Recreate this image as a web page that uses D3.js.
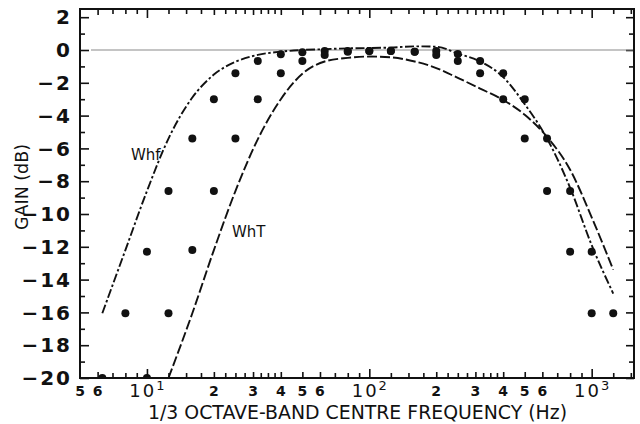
<!DOCTYPE html>
<html>
<head>
  <meta charset="utf-8" />
  <script src="https://d3js.org/d3.v7.min.js"></script>
  <style>
    body {
      margin: 0;
      background: #fff;
    }
    svg {
      display: block;
      font-family: "DejaVu Sans", sans-serif;
    }
    .tick line {
      stroke: #111;
      stroke-width: 1.6px;
    }
    .curve {
      fill: none;
      stroke: #111;
      stroke-width: 1.9px;
    }
  </style>
</head>
<body>
  <script>
    // 1/3 octave band centre frequencies (Hz)
    var bands = [6.3, 8, 10, 12.5, 16, 20, 25, 31.5, 40, 50, 63, 80, 100, 125, 160, 200, 250, 315, 400, 500, 630, 800, 1000, 1250];
    // measured points, outer and inner sets (dB)
    var gainOuter = [-20, -16.05, -12.3, -8.6, -5.4, -3.0, -1.42, -0.67, -0.26, -0.14, -0.06, -0.06, -0.06, -0.06, -0.1, -0.06, -0.25, -0.67, -1.42, -3.0, -5.4, -8.6, -12.3, -16.05];
    var gainInner = [null, null, -20, -16.05, -12.2, -8.6, -5.4, -3.0, -1.42, -0.67, -0.3, -0.1, -0.06, -0.06, -0.1, -0.3, -0.67, -1.42, -3.0, -5.4, -8.6, -12.3, -16.05, null];

    // Whf weighting curve (dash-dot)
    var whfFreq = [6.3, 8, 10, 12.5, 16, 20, 25, 31.5, 40, 50, 63, 80, 100, 125, 160, 200, 250, 315, 400, 500, 630, 800, 1000, 1250];
    var whfGain = [-16.05, -12.2, -8.6, -5.4, -2.9, -1.5, -0.72, -0.3, -0.1, 0, 0.05, 0.1, 0.12, 0.15, 0.22, 0.2, -0.22, -0.7, -1.65, -3.3, -5.4, -8.4, -11.9, -14.85];

    // WhT weighting curve (dashed)
    var whtFreq = [12.5, 16, 20, 25, 31.5, 40, 50, 63, 80, 100, 125, 160, 200, 250, 315, 400, 500, 630, 800, 1000, 1250];
    var whtGain = [-20, -16.05, -12.2, -8.6, -5.45, -3.0, -1.45, -0.7, -0.48, -0.4, -0.45, -0.7, -1.1, -1.7, -2.35, -3.05, -3.95, -5.3, -7.3, -10.2, -13.4];

    // axis ticks
    var decades = [10, 100, 1000];
    var minorMult = [1.25, 1.5, 1.75, 2, 2.25, 2.5, 2.75, 3, 3.25, 3.5, 3.75, 4, 5, 6, 7, 8, 9];
    var labelMult = [2, 3, 4, 5, 6];
    var firstLabels = [5, 6];
    var gainTicks = [2, 0, -2, -4, -6, -8, -10, -12, -14, -16, -18, -20];

    var pLeft = 80, pRight = 634, pTop = 9, pBottom = 378;

    var x = d3.scaleLog().domain([5, 1550]).range([pLeft, pRight]);
    var y = d3.scaleLinear().domain([-20, 2.5]).range([pBottom, pTop]);

    var svg = d3.select("body")
      .append("svg")
      .attr("width", 640)
      .attr("height", 424);

    svg.append("defs")
      .append("clipPath")
      .attr("id", "plot")
      .append("rect")
      .attr("x", pLeft)
      .attr("y", pTop)
      .attr("width", pRight - pLeft)
      .attr("height", pBottom - pTop);

    // build tick value lists
    var minorTicks = [];
    [1].concat(decades).forEach(function(dec) {
      minorMult.forEach(function(m) {
        var v = dec * m;
        if (v > 5 && v < 1550) minorTicks.push(v);
      });
    });
    var midTicks = minorTicks.filter(function(v) {
      var m = v / Math.pow(10, Math.floor(Math.log10(v) + 1e-9));
      return labelMult.indexOf(Math.round(m * 100) / 100) >= 0;
    });
    var shortTicks = minorTicks.filter(function(v) { return midTicks.indexOf(v) < 0; });

    function xTicks(axisFn, values, size, ty) {
      svg.append("g")
        .attr("transform", "translate(0 " + ty + ")")
        .call(axisFn(x).tickValues(values).tickSize(size).tickFormat(""))
        .call(function(g) { g.select(".domain").remove(); });
    }
    xTicks(d3.axisBottom, shortTicks, -5, pBottom);
    xTicks(d3.axisBottom, midTicks, -6, pBottom);
    xTicks(d3.axisBottom, decades, -9, pBottom);
    xTicks(d3.axisTop, shortTicks, -5, pTop);
    xTicks(d3.axisTop, midTicks, -6, pTop);
    xTicks(d3.axisTop, decades, -9, pTop);

    var oddGain = d3.range(-19, 3, 2);
    function yTicks(axisFn, values, size, tx) {
      svg.append("g")
        .attr("transform", "translate(" + tx + " 0)")
        .call(axisFn(y).tickValues(values).tickSize(size).tickFormat(""))
        .call(function(g) { g.select(".domain").remove(); });
    }
    yTicks(d3.axisLeft, gainTicks, -9, pLeft);
    yTicks(d3.axisLeft, oddGain, -5, pLeft);
    yTicks(d3.axisRight, gainTicks, -8, pRight);
    yTicks(d3.axisRight, oddGain, -5, pRight);

    // zero reference line
    svg.append("line")
      .attr("x1", pLeft + 11)
      .attr("x2", pRight)
      .attr("y1", y(0))
      .attr("y2", y(0))
      .style("stroke", "#8a8a8a")
      .style("stroke-width", "1.2px");

    // frame
    svg.append("rect")
      .attr("x", pLeft)
      .attr("y", pTop)
      .attr("width", pRight - pLeft)
      .attr("height", pBottom - pTop)
      .style("fill", "none")
      .style("stroke", "#111")
      .style("stroke-width", "2px");

    // y labels
    svg.append("g")
      .selectAll("text")
      .data(gainTicks)
      .enter()
      .append("text")
      .attr("x", 72)
      .attr("y", function(d) { return y(d); })
      .attr("dy", "0.36em")
      .attr("text-anchor", "end")
      .style("font-size", "20px")
      .style("font-weight", "bold")
      .style("letter-spacing", "2px")
      .style("fill", "#111")
      .text(function(d) { return d3.format("")(d); });

    // x labels
    var smallLabels = firstLabels.slice();
    [10, 100].forEach(function(dec) {
      labelMult.forEach(function(m) { smallLabels.push(dec * m); });
    });
    svg.append("g")
      .selectAll("text")
      .data(smallLabels)
      .enter()
      .append("text")
      .attr("x", function(d) { return x(d); })
      .attr("y", 396)
      .attr("text-anchor", "middle")
      .style("font-size", "14px")
      .style("font-weight", "bold")
      .style("fill", "#111")
      .text(function(d) { return String(d).charAt(0); });

    var decLabel = svg.append("g")
      .selectAll("text")
      .data(decades)
      .enter()
      .append("text")
      .attr("x", function(d) { return x(d); })
      .attr("y", 397)
      .attr("text-anchor", "middle")
      .style("fill", "#111");
    decLabel.append("tspan")
      .style("font-size", "18px")
      .style("letter-spacing", "2px")
      .text("10");
    decLabel.append("tspan")
      .attr("dy", "-7")
      .style("font-size", "13px")
      .text(function(d) { return Math.round(Math.log10(d)); });

    // axis titles
    svg.append("text")
      .attr("x", 148)
      .attr("y", 419)
      .attr("textLength", 419)
      .attr("lengthAdjust", "spacingAndGlyphs")
      .style("font-size", "19px")
      .style("fill", "#111")
      .text("1/3 OCTAVE-BAND CENTRE FREQUENCY (Hz)");

    svg.append("text")
      .attr("transform", "translate(28 187) rotate(-90)")
      .attr("text-anchor", "middle")
      .attr("textLength", 86)
      .attr("lengthAdjust", "spacingAndGlyphs")
      .style("font-size", "18px")
      .style("fill", "#111")
      .text("GAIN (dB)");

    var plot = svg.append("g")
      .attr("clip-path", "url(#plot)");

    var line = d3.line()
      .x(function(d) { return x(d[0]); })
      .y(function(d) { return y(d[1]); })
      .curve(d3.curveMonotoneX);

    plot.append("path")
      .attr("class", "curve")
      .attr("d", line(d3.zip(whfFreq, whfGain)))
      .style("stroke-dasharray", "9 2.5 2.5 2.5");

    plot.append("path")
      .attr("class", "curve")
      .attr("d", line(d3.zip(whtFreq, whtGain)))
      .style("stroke-dasharray", "10 3");

    var points = [];
    bands.forEach(function(f, i) {
      if (gainOuter[i] != null) points.push([f, gainOuter[i]]);
      if (gainInner[i] != null) points.push([f, gainInner[i]]);
    });

    plot.selectAll("circle")
      .data(points)
      .enter()
      .append("circle")
      .attr("cx", function(d) { return x(d[0]); })
      .attr("cy", function(d) { return y(d[1]); })
      .attr("r", 4)
      .style("fill", "#111");

    // curve labels
    svg.append("text")
      .attr("x", 131)
      .attr("y", 160)
      .style("font-size", "15px")
      .style("fill", "#111")
      .text("Whf");

    svg.append("text")
      .attr("x", 232)
      .attr("y", 237)
      .style("font-size", "15px")
      .style("fill", "#111")
      .text("WhT");
  </script>
</body>
</html>
